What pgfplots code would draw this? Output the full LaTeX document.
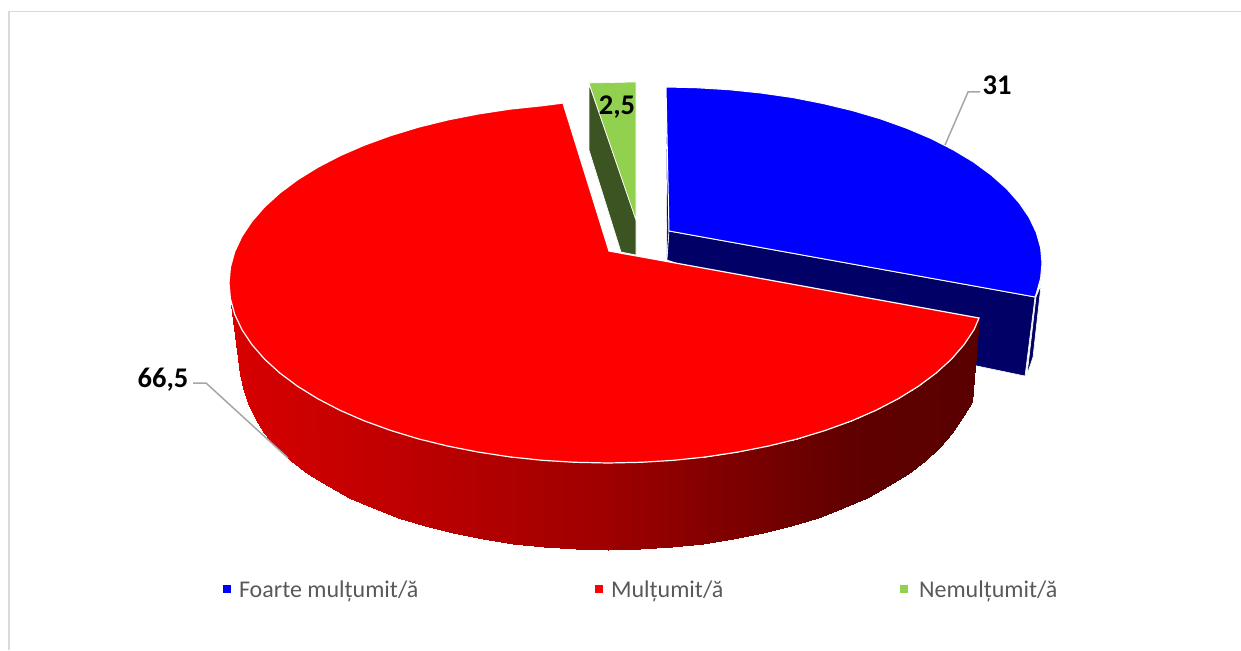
\documentclass[border=0pt]{standalone}
\usepackage{pgfplots}
\pgfplotsset{compat=1.18}
\usepackage{fontspec}
\setmainfont{Carlito}
\definecolor{bluedark}{RGB}{0,0,102}
\definecolor{greentop}{RGB}{146,208,80}
\definecolor{greendark}{RGB}{60,84,33}
\definecolor{legtext}{RGB}{89,89,89}
\definecolor{leader}{RGB}{166,166,166}
\definecolor{frameg}{RGB}{217,217,217}
\begin{document}
\begin{tikzpicture}
\begin{axis}[
  scale only axis, width=1241pt, height=650pt,
  xmin=0, xmax=1241, ymin=0, ymax=650, y dir=reverse,
  hide axis, clip=true,
  colormap={reds}{rgb255(0pt)=(214,0,0) rgb255(360pt)=(160,0,0) rgb255(610pt)=(96,0,0) rgb255(730pt)=(90,0,0)},
  point meta min=240, point meta max=970,
  every node/.append style={inner sep=0pt},
]
% frame
\addplot[frameg, line width=1.2pt] coordinates {(9,650) (9,11.5) (1241,11.5)};
% blue slice, sides
\addplot[fill=bluedark, draw=white, line width=0.6pt] coordinates {(666,117) (667,260) (669,231) (666,87)} -- cycle;
\addplot[fill=bluedark, draw=white, line width=0.6pt] coordinates {(669,231) (1035,297) (1025,376) (977,366) (667,260)} -- cycle;
\addplot[fill=bluedark, draw=white, line width=0.6pt] coordinates {(1036,297) (1041,285) (1033,357) (1027,375)} -- cycle;
% blue top
\addplot[fill=blue, draw=white, line width=1pt] coordinates {
(666,87) (696,87.7) (729,89.7) (761,93) (793,97.6) (823,103.5) (852.5,110.6) (880.4,118.8)
(906.6,128.2) (931,138.5) (953.3,149.9) (973.5,162) (991.2,175) (1006.5,188.6) (1019.1,202.8)
(1029.1,217.4) (1036.3,232.4) (1040.6,247.7) (1042,263) (1040.6,278.3) (1036.3,293.6) (1035,297)
(669,231)} -- cycle;
% green slice
\addplot[fill=greendark, draw=white, line width=0.6pt] coordinates {(589,84) (589,150) (621,252) (636,255) (636,220)} -- cycle;
\addplot[fill=greentop, draw=white, line width=0.6pt] coordinates {(589,83) (636,82) (636,220)} -- cycle;
% red side
\addplot[surf, shader=interp, mesh/cols=2, point meta=x] table {
979 318
972 402
974.1 329.6
961.5 418.1
964.1 344.6
951.9 432.9
951.5 359.1
939.7 447.2
936.2 373
925 461
918.5 386.2
907.8 474.1
898.3 398.7
888.4 486.4
876 410.3
866.8 497.9
851.6 420.9
843.3 508.4
825.4 430.4
817.9 517.8
797.5 438.9
791 526.2
768.2 446.1
762.7 533.3
737.6 452.1
733.2 539.3
706.1 456.9
702.7 543.9
673.8 460.3
671.6 547.3
641 462.3
639.9 549.3
608 463
608 550
575 462.3
576.1 549.3
542.2 460.3
544.4 547.3
509.9 456.9
513.3 543.9
478.4 452.1
482.8 539.3
447.8 446.1
453.3 533.3
418.5 438.9
425 526.2
390.6 430.4
398.1 517.8
364.4 420.9
372.7 508.4
340 410.3
349.2 497.9
317.7 398.7
327.6 486.4
297.5 386.2
308.2 474.1
279.8 373
291 461
264.5 359.1
276.3 447.2
251.9 344.6
264.1 432.9
241.9 329.6
254.5 418.1
234.7 314.3
247.6 402.9
232.5 309.5
243 388
231 305
240 374
};
% red top
\addplot[fill=red, draw=white, line width=1.2pt] coordinates {
(979,318) (974.1,329.6) (964.1,344.6) (951.5,359.1) (936.2,373) (918.5,386.2) (898.3,398.7)
(876,410.3) (851.6,420.9) (825.4,430.4) (797.5,438.9) (768.2,446.1) (737.6,452.1) (706.1,456.9)
(673.8,460.3) (641,462.3) (608,463) (575,462.3) (542.2,460.3) (509.9,456.9) (478.4,452.1)
(447.8,446.1) (418.5,438.9) (390.6,430.4) (364.4,420.9) (340,410.3) (317.7,398.7) (297.5,386.2)
(279.8,373) (264.5,359.1) (251.9,344.6) (241.9,329.6) (234.7,314.3) (230.4,298.7) (229,283)
(230.4,267.3) (234.7,251.7) (241.9,236.4) (251.9,221.4) (264.5,206.9) (279.8,193) (297.5,179.8)
(317.7,167.3) (340,155.7) (364.4,145.1) (390.6,135.6) (418.5,127.1) (447.8,119.9) (478.4,113.9)
(509.9,109.1) (542.2,105.7) (563,103) (609,251)} -- cycle;
% leader lines
\addplot[leader, line width=1.5pt] coordinates {(945,145) (968,92) (980,92)};
\addplot[leader, line width=1.5pt] coordinates {(193,383) (206,383) (288,458)};
% legend markers
\addplot[only marks, color=blue, mark=square*, mark size=3.5pt] coordinates {(227,589)};
\addplot[only marks, color=red, mark=square*, mark size=3.5pt] coordinates {(599,589)};
\addplot[only marks, color=greentop, mark=square*, mark size=3.5pt] coordinates {(904,589)};
% texts
\node[font=\fontsize{28.5}{32}\selectfont\bfseries] at (axis cs:997,85) {31};
\node[font=\fontsize{28.5}{32}\selectfont\bfseries] at (axis cs:617,107) {2,5};
\node[font=\fontsize{28.5}{32}\selectfont\bfseries] at (axis cs:163,380) {66,5};
\node[anchor=west, text=legtext, font=\fontsize{24}{28}\selectfont] at (axis cs:235.5,591) {Foarte mulțumit/ă};
\node[anchor=west, text=legtext, font=\fontsize{24}{28}\selectfont] at (axis cs:607.5,591) {Mulțumit/ă};
\node[anchor=west, text=legtext, font=\fontsize{24}{28}\selectfont] at (axis cs:915.5,591) {Nemulțumit/ă};
\end{axis}
\path (current axis.south west) rectangle (current axis.north east);
\end{tikzpicture}
\end{document}
